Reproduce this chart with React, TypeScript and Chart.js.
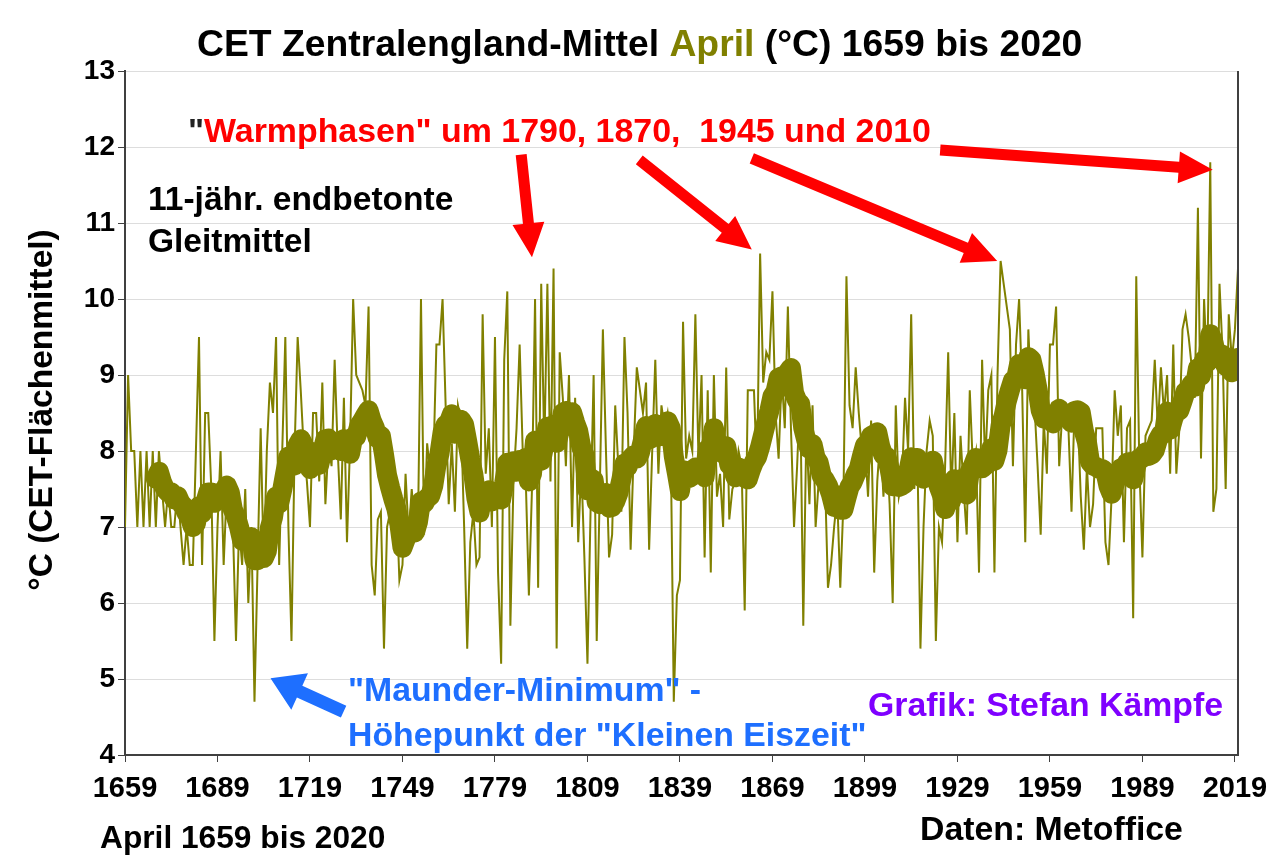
import React, { useEffect, useRef } from "react";
import { Chart, registerables } from "chart.js";

Chart.register(...registerables);

const FIRST_YEAR = 1659;
const LAST_YEAR = 2020;

// CET April mean temperature (°C), 1659..2020
const aprilTemps: number[] = [
  7, 9, 8, 8, 7, 8, 7, 8, 7, 8, // 1659-1668
  7, 8, 7.5, 7, 7.5, 7, 7, 7.5, 7, 6.5, // 1669-1678
  7, 6.5, 6.5, 8, 9.5, 6.5, 8.5, 8.5, 7.5, 5.5, // 1679-1688
  7, 8, 6.5, 7.5, 7, 7, 5.5, 7, 6.5, 7.5, // 1689-1698
  6, 7, 4.7, 6.5, 8.3, 6.5, 8, 8.9, 8.5, 9.5, // 1699-1708
  6.5, 8, 9.5, 7, 5.5, 8, 9.5, 8.8, 8, 7.6, // 1709-1718
  7, 8.5, 8.5, 7.6, 8.9, 7.3, 8.1, 7.8, 9.2, 8, // 1719-1728
  7.1, 8.7, 6.8, 8.1, 10, 9, 8.9, 8.8, 8.6, 9.9, // 1729-1738
  6.5, 6.1, 7.1, 7.2, 5.4, 7, 7.2, 7.3, 7.4, 6.3, // 1739-1748
  6.5, 7.7, 6.9, 7.5, 7, 6.9, 10, 6.9, 8.1, 7.7, // 1749-1758
  7.8, 9.4, 9.4, 10, 8.6, 7.3, 8.1, 7.2, 8.6, 8.4, // 1759-1768
  7, 5.4, 6.8, 7.2, 6.5, 6.6, 9.8, 7.7, 8.3, 7, // 1769-1778
  9.5, 6.4, 5.2, 9.2, 10.1, 5.7, 7.6, 8.3, 9.4, 8, // 1779-1788
  7.6, 6.1, 7.5, 10, 6.2, 10.2, 8, 10.2, 7.6, 10.4, // 1789-1798
  5.4, 9.3, 8.7, 7.8, 9, 7, 8.7, 6.8, 7.8, 6.6, // 1799-1808
  5.2, 7.2, 9, 5.5, 7.5, 9.6, 8, 6.6, 6.9, 8.6, // 1809-1818
  7.8, 7.2, 9.5, 8.5, 6.7, 8, 9.1, 8.8, 8.5, 8.9, // 1819-1828
  6.7, 8, 9.2, 7.7, 8.6, 8.3, 8.5, 8.1, 4.7, 6.1, // 1829-1838
  6.3, 9.7, 7.9, 8.2, 8, 9.8, 7.9, 9, 6.6, 8.8, // 1839-1848
  6.4, 9, 7.4, 7.7, 7, 9.1, 7.1, 7.5, 7.6, 8, // 1849-1858
  7.8, 5.9, 8.8, 8.8, 8.8, 7.7, 10.6, 8.9, 9.3, 9.2, // 1859-1868
  10.1, 8.5, 7.9, 9, 8.3, 9.9, 8.3, 7, 7.8, 8.8, // 1869-1878
  5.7, 8.3, 7.3, 8.6, 7, 7.6, 8, 7.7, 6.2, 6.5, // 1879-1888
  7, 7.4, 6.2, 7.3, 10.3, 8.6, 8.3, 9.1, 8.5, 8, // 1889-1898
  8.1, 7.4, 8.4, 6.4, 7.6, 8.2, 7.4, 8.1, 7.3, 6, // 1899-1908
  8.6, 7.4, 7.6, 8.7, 8, 9.8, 7.5, 8, 5.4, 7, // 1909-1918
  8, 8.4, 8.2, 5.5, 7, 6.8, 7.8, 9.3, 7.4, 8.5, // 1919-1928
  6.8, 8.2, 7.5, 6.9, 8.8, 7.8, 8, 6.4, 9.2, 7.8, // 1929-1938
  8.8, 9, 6.4, 9, 10.5, 10.2, 9.9, 9.6, 7.8, 9.4, // 1939-1948
  10, 8.8, 6.8, 9.6, 8.6, 8.6, 7.8, 6.9, 8.4, 7.7, // 1949-1958
  9.4, 9.4, 9.9, 7.8, 8.5, 8.6, 8.3, 7.2, 8.6, 8.5, // 1959-1968
  7.4, 6.7, 7.8, 7, 7.3, 8.3, 8.3, 8.3, 6.8, 6.5, // 1969-1978
  7.4, 8.8, 8.2, 8.6, 6.8, 8.3, 8.4, 5.8, 10.3, 7.8, // 1979-1988
  6.6, 8.2, 8.3, 8.4, 9.2, 8.3, 9.1, 8.5, 9, 7.7, // 1989-1998
  9.4, 7.7, 8.3, 9.6, 9.8, 9.5, 9.1, 8.7, 11.2, 7.9, // 1999-2008
  10, 9, 11.8, 7.2, 7.5, 10.2, 9.3, 7.5, 9.8, 9.2, // 2009-2018
  9.6, 10.4, // 2019-2020
];

const xTickYears = [1659, 1689, 1719, 1749, 1779, 1809, 1839, 1869, 1899, 1929, 1959, 1989, 2019];
const Y_MIN = 4;
const Y_MAX = 13;
const SMOOTH_WINDOW = 11; // 11-jähr. endbetonte (trailing) Gleitmittel

const OLIVE = "#808000";
const FONT = "'Liberation Sans', Arial, Helvetica, sans-serif";

// red arrows: [fromYear, fromValue, toYear, toValue]
const redArrows: number[][] = [
  [1787.5, 11.9, 1791.0, 10.55],
  [1825.8, 11.83, 1862.3, 10.65],
  [1862.3, 11.85, 1941.9, 10.5],
  [1923.4, 11.96, 2011.8, 11.7],
];
const blueArrow: number[] = [1729.9, 4.57, 1706.2, 5.01];

function drawArrow(ctx: CanvasRenderingContext2D, x1: number, y1: number, x2: number, y2: number,
  shaft: number, headLen: number, headW: number, color: string) {
  const dx = x2 - x1, dy = y2 - y1;
  const len = Math.hypot(dx, dy);
  const ux = dx / len, uy = dy / len;
  const px = -uy, py = ux;
  const bx = x2 - ux * headLen, by = y2 - uy * headLen;
  ctx.beginPath();
  ctx.moveTo(x1 + px * shaft / 2, y1 + py * shaft / 2);
  ctx.lineTo(bx + px * shaft / 2, by + py * shaft / 2);
  ctx.lineTo(bx + px * headW / 2, by + py * headW / 2);
  ctx.lineTo(x2, y2);
  ctx.lineTo(bx - px * headW / 2, by - py * headW / 2);
  ctx.lineTo(bx - px * shaft / 2, by - py * shaft / 2);
  ctx.lineTo(x1 - px * shaft / 2, y1 - py * shaft / 2);
  ctx.closePath();
  ctx.fillStyle = color;
  ctx.fill();
}

function drawSegments(ctx: CanvasRenderingContext2D, x: number, y: number, segs: [string, string][]) {
  let cx = x;
  for (const [txt, col] of segs) {
    ctx.fillStyle = col;
    ctx.fillText(txt, cx, y);
    cx += ctx.measureText(txt).width;
  }
}

const annotationPlugin = {
  id: "cetAnnotations",
  afterDatasetsDraw(chart: any) {
    const ctx: CanvasRenderingContext2D = chart.ctx;
    const xs = chart.scales.x, ys = chart.scales.y;
    const ca = chart.chartArea;
    ctx.save();
    // right frame line
    ctx.strokeStyle = "#404040";
    ctx.lineWidth = 2;
    ctx.beginPath();
    ctx.moveTo(ca.right, ca.top);
    ctx.lineTo(ca.right, ca.bottom);
    ctx.stroke();
    for (const a of redArrows) {
      drawArrow(ctx, xs.getPixelForValue(a[0]), ys.getPixelForValue(a[1]),
        xs.getPixelForValue(a[2]), ys.getPixelForValue(a[3]), 11, 34, 32, "#FF0000");
    }
    drawArrow(ctx, xs.getPixelForValue(blueArrow[0]), ys.getPixelForValue(blueArrow[1]),
      xs.getPixelForValue(blueArrow[2]), ys.getPixelForValue(blueArrow[3]), 13, 32, 40, "#1E6FFF");
    ctx.restore();
  },
  afterDraw(chart: any) {
    const ctx: CanvasRenderingContext2D = chart.ctx;
    const ca = chart.chartArea;
    ctx.save();
    ctx.textBaseline = "alphabetic";
    ctx.textAlign = "left";
    // title
    ctx.font = `bold 37.3px ${FONT}`;
    drawSegments(ctx, 197, 56, [
      ["CET Zentralengland-Mittel ", "#000000"],
      ["April", OLIVE],
      [" (°C) 1659 bis 2020", "#000000"],
    ]);
    // red annotation
    ctx.font = `bold 33.9px ${FONT}`;
    drawSegments(ctx, 188, 142, [
      ['"', "#222222"],
      ['Warmphasen" um 1790, 1870,  1945 und 2010', "#FF0000"],
    ]);
    // smoothing note
    ctx.font = `bold 33.5px ${FONT}`;
    ctx.fillStyle = "#000000";
    ctx.fillText("11-jähr. endbetonte", 148, 210);
    ctx.fillText("Gleitmittel", 148, 252);
    // Maunder minimum
    ctx.font = `bold 33.8px ${FONT}`;
    ctx.fillStyle = "#1E6FFF";
    ctx.fillText('"Maunder-Minimum" -', 348, 701);
    ctx.fillText('Höhepunkt der "Kleinen Eiszeit"', 348, 746);
    // credit
    ctx.fillStyle = "#7F00FF";
    ctx.fillText("Grafik: Stefan Kämpfe", 868, 716);
    // bottom texts
    ctx.fillStyle = "#000000";
    ctx.font = `bold 31.7px ${FONT}`;
    ctx.fillText("April 1659 bis 2020", 100, 848);
    ctx.font = `bold 33.8px ${FONT}`;
    ctx.fillText("Daten: Metoffice", 920, 840);
    // y axis title
    ctx.save();
    ctx.translate(52, 410);
    ctx.rotate(-Math.PI / 2);
    ctx.textAlign = "center";
    ctx.font = `bold 33.5px ${FONT}`;
    ctx.fillStyle = "#000000";
    ctx.fillText("°C (CET-Flächenmittel)", 0, 0);
    ctx.restore();
    ctx.restore();
  },
};

export default function App() {
  const canvasRef = useRef<HTMLCanvasElement | null>(null);

  useEffect(() => {
    document.body.style.margin = "0";
    const years = aprilTemps.map((_, i) => FIRST_YEAR + i);
    const annual = years.map((yr, i) => ({ x: yr, y: aprilTemps[i] }));
    const smoothed = years.map((yr, i) => {
      if (i < SMOOTH_WINDOW - 1) return { x: yr, y: null as number | null };
      const win = aprilTemps.slice(i - SMOOTH_WINDOW + 1, i + 1);
      return { x: yr, y: win.reduce((s, v) => s + v, 0) / win.length };
    });

    const chart = new Chart(canvasRef.current as HTMLCanvasElement, {
      type: "line",
      data: {
        datasets: [
          {
            label: "11-jähr. Gleitmittel",
            data: smoothed as any,
            borderColor: OLIVE,
            borderWidth: 20,
            pointRadius: 0,
            borderJoinStyle: "round",
            borderCapStyle: "round",
            tension: 0,
            spanGaps: false,
            order: 0,
          },
          {
            label: "April",
            data: annual as any,
            borderColor: OLIVE,
            borderWidth: 2,
            pointRadius: 0,
            tension: 0,
            order: 1,
          },
        ],
      },
      options: {
        animation: false,
        responsive: false,
        devicePixelRatio: 1,
        layout: { padding: { top: 71, right: 45, left: 0, bottom: 0 } },
        plugins: {
          legend: { display: false },
          tooltip: { enabled: false },
          title: { display: false },
        },
        scales: {
          x: {
            type: "linear",
            min: FIRST_YEAR,
            max: LAST_YEAR,
            afterBuildTicks: (scale: any) => {
              scale.ticks = xTickYears.map((v) => ({ value: v }));
            },
            afterFit: (scale: any) => {
              scale.height = 101;
            },
            grid: {
              drawOnChartArea: false,
              drawTicks: true,
              tickLength: 7,
              color: "#404040",
            },
            border: { color: "#404040", width: 2 },
            ticks: {
              autoSkip: false,
              maxRotation: 0,
              padding: 10,
              color: "#000000",
              font: { family: FONT, size: 29, weight: "bold" },
              callback: (v: any) => String(v),
            },
          },
          y: {
            min: Y_MIN,
            max: Y_MAX,
            afterFit: (scale: any) => {
              scale.width = 125;
            },
            grid: {
              color: "#DDDDDD",
              lineWidth: 1,
              drawTicks: true,
              tickLength: 7,
              tickColor: "#404040",
            },
            border: { color: "#404040", width: 2 },
            ticks: {
              stepSize: 1,
              padding: 3,
              color: "#000000",
              font: { family: FONT, size: 28, weight: "bold" },
            },
          },
        },
      },
      plugins: [annotationPlugin],
    });
    return () => chart.destroy();
  }, []);

  return (
    <div style={{ width: 1283, height: 856, position: "relative", background: "#ffffff" }}>
      <canvas ref={canvasRef} width={1283} height={856} style={{ display: "block" }} />
    </div>
  );
}
